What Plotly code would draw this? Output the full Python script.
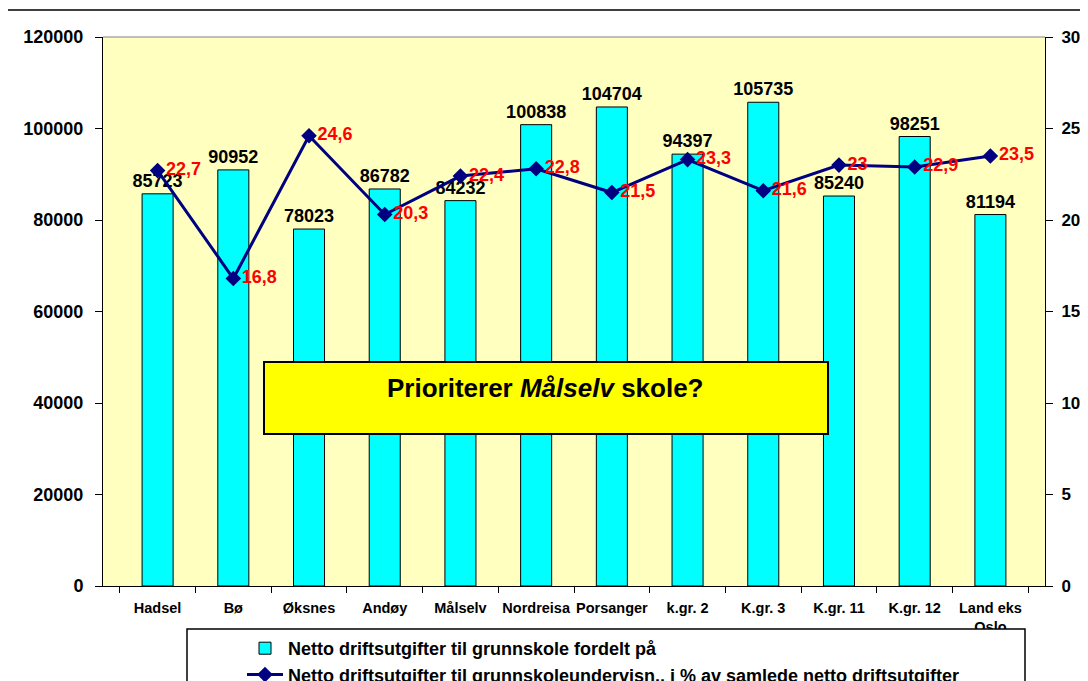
import plotly.graph_objects as go

############# Data #############
kommuner = ['Hadsel', 'Bø', 'Øksnes', 'Andøy', 'Målselv', 'Nordreisa', 'Porsanger',
            'k.gr. 2', 'K.gr. 3', 'K.gr. 11', 'K.gr. 12', 'Land eks<br>Oslo']
netto_kr = [85723, 90952, 78023, 86782, 84232, 100838, 104704, 94397, 105735, 85240, 98251, 81194]
andel_pct = [22.7, 16.8, 24.6, 20.3, 22.4, 22.8, 21.5, 23.3, 21.6, 23, 22.9, 23.5]

left_ticks = [0, 20000, 40000, 60000, 80000, 100000, 120000]
right_ticks = [0, 5, 10, 15, 20, 25, 30]

FONT = 'Arial, Liberation Sans, sans-serif'

# page body has an 8px margin, so screen px -> figure px is minus 8
OFF = 8
W, H = 1088 - OFF, 681 - OFF
L, R, T, B = 103 - OFF, 1045 - OFF, 37 - OFF, 586 - OFF
def px(x):
    return (x - OFF - L) / (R - L)
def py(y):
    return (B - (y - OFF)) / (B - T)

############# Plotting Chart #############
fig = go.Figure()

fig.add_trace(go.Bar(
    x=kommuner, y=netto_kr,
    name='Netto driftsutgifter til grunnskole fordelt på',
    marker=dict(color='#00FFFF', line=dict(color='black', width=1)),
    width=0.41,
    text=[str(v) for v in netto_kr], textposition='outside', cliponaxis=False,
    constraintext='none',
    textfont=dict(family=FONT, size=18, color='black', weight='bold'),
))

fig.add_trace(go.Scatter(
    x=kommuner, y=andel_pct, yaxis='y2',
    name='Netto driftsutgifter til grunnskoleundervisn., i % av samlede netto driftsutgifter',
    mode='lines+markers+text',
    line=dict(color='#000080', width=3),
    marker=dict(symbol='diamond', size=12, color='#000080'),
    text=[f'{v:g}'.replace('.', ',') for v in andel_pct],
    textposition='middle right', cliponaxis=False,
    textfont=dict(family=FONT, size=18, color='#FF0000', weight='bold'),
))

fig.update_layout(
    width=W, height=H,
    margin=dict(l=L, r=W - R, t=T, b=H - B, autoexpand=False),
    paper_bgcolor='white', plot_bgcolor='#FFFFC0',
    font=dict(family=FONT, size=14, color='black', weight='bold'),
    showlegend=True,
    legend=dict(
        x=px(242), y=py(630), xanchor='left', yanchor='top',
        bgcolor='rgba(0,0,0,0)', borderwidth=0,
        font=dict(family=FONT, size=18, color='black', weight='bold'),
        itemwidth=36, tracegroupgap=0,
    ),
    xaxis=dict(
        showline=True, linecolor='black', linewidth=1,
        ticks='outside', ticklen=6, tickcolor='black', tickson='boundaries',
        tickfont=dict(family=FONT, size=14.5, color='black', weight='bold'),
        tickangle=0, ticklabelstandoff=9,
        showgrid=False,
    ),
    yaxis=dict(
        range=[0, 120000], tickvals=left_ticks, ticktext=[str(v) for v in left_ticks],
        showline=True, linecolor='black', linewidth=1,
        ticks='outside', ticklen=7, tickcolor='black',
        tickfont=dict(family=FONT, size=18, color='black', weight='bold'),
        ticklabelstandoff=8,
        showgrid=False, zeroline=False,
    ),
    yaxis2=dict(
        range=[0, 30], tickvals=right_ticks, overlaying='y', side='right',
        showline=True, linecolor='black', linewidth=1,
        ticks='outside', ticklen=7, tickcolor='black',
        tickfont=dict(family=FONT, size=17, color='black', weight='bold'),
        ticklabelstandoff=5,
        showgrid=False, zeroline=False,
    ),
    bargap=0.59,
)

# grey top edge of plot area
fig.add_shape(type='line', xref='paper', yref='paper', x0=0, x1=1, y0=1, y1=1,
              line=dict(color='#808080', width=1))
# outer chart frame (cropped at right and bottom): only left and top edges show
fig.add_shape(type='path', xref='paper', yref='paper',
              path=f'M {px(7)},{py(760)} L {px(7)},{py(10)} L {px(1120)},{py(10)}',
              line=dict(color='black', width=1.5), layer='below')
# legend frame (bottom edge cut off)
fig.add_shape(type='rect', xref='paper', yref='paper',
              x0=px(187), x1=px(1025), y0=py(629), y1=py(760),
              fillcolor='white', line=dict(width=0), layer='above')
fig.add_shape(type='path', xref='paper', yref='paper',
              path=f'M {px(187)},{py(760)} L {px(187)},{py(629)} L {px(1025)},{py(629)} L {px(1025)},{py(760)}',
              line=dict(color='black', width=1.5), layer='above')
# question box
fig.add_shape(type='rect', xref='paper', yref='paper',
              x0=px(264), x1=px(828), y0=py(362), y1=py(434),
              fillcolor='#FFFF00', line=dict(color='black', width=2), layer='above')
fig.add_annotation(xref='paper', yref='paper', x=px(545), y=py(388),
                   text='Prioriterer <i>Målselv</i> skole?', showarrow=False,
                   font=dict(family=FONT, size=26, color='black', weight='bold'))

fig.write_html('out.html')
